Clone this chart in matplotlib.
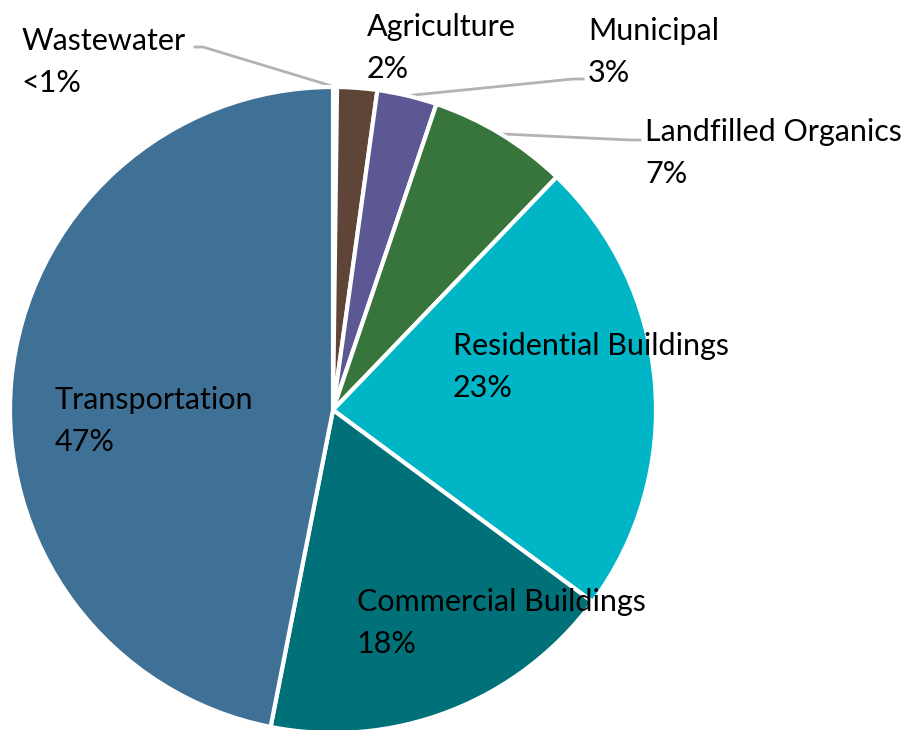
import numpy as np
import matplotlib.pyplot as plt

sectors = ["Wastewater", "Agriculture", "Municipal", "Landfilled Organics",
           "Residential Buildings", "Commercial Buildings", "Transportation"]
shares = [0.2, 2, 3, 7, 23, 18, 47]
share_text = ["<1%", "2%", "3%", "7%", "23%", "18%", "47%"]
colors = ["#7a4a3a", "#5f4537", "#5b5894", "#38753c",
          "#00b5c6", "#007179", "#3f7196"]

W, H = 920, 730
cx, cy, r = 333, H - 410, 323

# label anchor: left edge and baseline of the first line, pixels from top-left
label_pos = {
    "Wastewater": (22, 50),
    "Agriculture": (367, 36),
    "Municipal": (588, 40),
    "Landfilled Organics": (645, 141),
    "Residential Buildings": (453, 355),
    "Commercial Buildings": (357, 611),
    "Transportation": (55, 409),
}
line_gap = 42
# where the leader line leaves the label
leader_start = {
    "Wastewater": (195, 47),
    "Municipal": (583, 79),
    "Landfilled Organics": (640, 140),
}

plt.rcParams['font.family'] = ['Lato', 'DejaVu Sans']

fig = plt.figure(figsize=(W / 100, H / 100), dpi=100)
ax = fig.add_axes([0, 0, 1, 1])

wedges, _ = ax.pie(shares, colors=colors, startangle=90, counterclock=False,
                   radius=r, center=(cx, cy),
                   wedgeprops=dict(edgecolor='white', linewidth=3))
# pie() resets the limits, so fix them afterwards
ax.set_xlim(0, W)
ax.set_ylim(0, H)
ax.set_aspect('equal')
ax.axis('off')

for w, name, txt in zip(wedges, sectors, share_text):
    x, y = label_pos[name]
    ax.text(x, H - y, name, fontsize=22, ha='left', va='baseline')
    ax.text(x, H - y - line_gap, txt, fontsize=22, ha='left', va='baseline')
    if name in leader_start:
        mid = np.deg2rad((w.theta1 + w.theta2) / 2)
        ex = cx + r * np.cos(mid)
        ey = cy + r * np.sin(mid)
        sx, sy = leader_start[name]
        ax.plot([sx, sx - 10 if sx > ex else sx + 8, ex],
                [H - sy, H - sy, ey], color='#b3b3b3', lw=2, zorder=0)

fig.savefig("out.png", dpi=100)
